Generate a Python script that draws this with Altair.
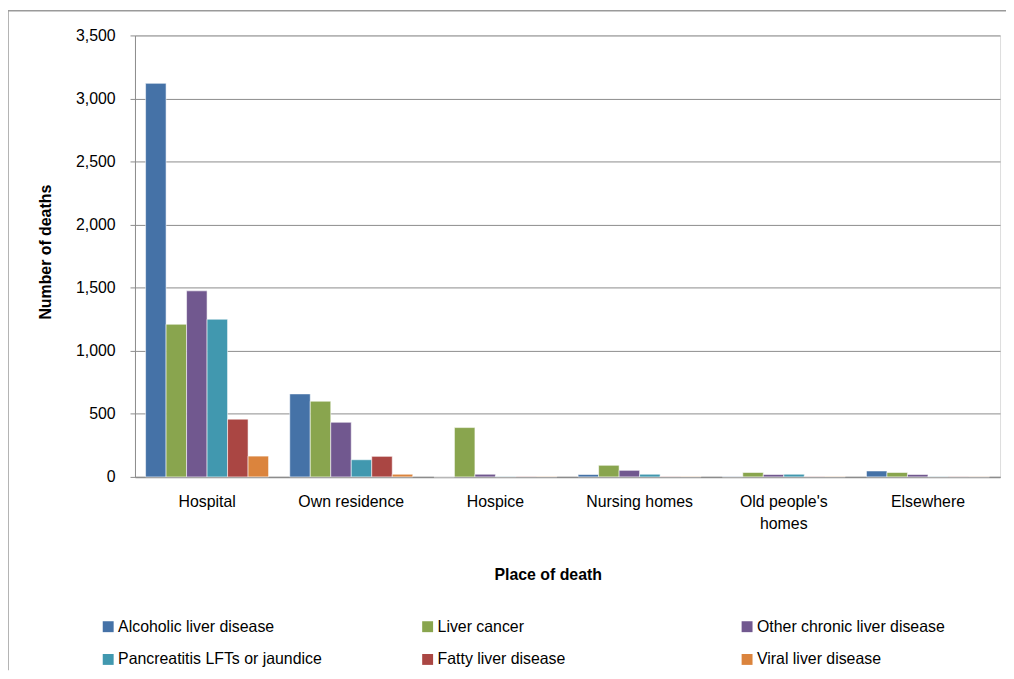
import altair as alt
import pandas as pd

places = ["Hospital", "Own residence", "Hospice", "Nursing homes",
          "Old people's homes", "Elsewhere"]
series = ["Alcoholic liver disease", "Liver cancer", "Other chronic liver disease",
          "Pancreatitis LFTs or jaundice", "Fatty liver disease", "Viral liver disease"]
colors = ["#4572A7", "#89A54E", "#71588F", "#4198AF", "#AA4643", "#DB843D"]

alcoholic = [3120, 658, 0, 19, 2, 47]
liver_cancer = [1210, 600, 391, 92, 35, 35]
other_chronic = [1475, 433, 21, 52, 19, 19]
pancreatitis = [1250, 136, 2, 21, 21, 2]
fatty = [458, 163, 3, 3, 3, 2]
viral = [165, 21, 3, 3, 3, 2]

values = [alcoholic, liver_cancer, other_chronic, pancreatitis, fatty, viral]
rows = []
for s, vals in zip(series, values):
    for p, v in zip(places, vals):
        rows.append({"place": p, "series": s, "deaths": v})
df = pd.DataFrame(rows)

FONT = "Liberation Sans"

bars = alt.Chart(df).mark_bar(stroke="white", strokeWidth=0.8, strokeOpacity=0.7).encode(
    x=alt.X("place:N", sort=places,
            scale=alt.Scale(paddingInner=0.147, paddingOuter=0.0735),
            axis=alt.Axis(title="Place of death", ticks=False, labelAngle=0,
                          labelFontSize=16, labelFont=FONT, labelColor="black",
                          labelPadding=17, labelLineHeight=22,
                          labelExpr='indexof(datum.value, "people") >= 0 ? ["Old people\'s", "homes"] : datum.value',
                          domainColor="#8c8c8c", domainWidth=1.5,
                          titleFontSize=16, titleFont=FONT, titleFontWeight="bold",
                          titleColor="black", titleX=416, titleY=90,
                          titleBaseline="top")),
    xOffset=alt.XOffset("series:N", sort=series,
                        scale=alt.Scale(domain=series, paddingInner=0, paddingOuter=0)),
    y=alt.Y("deaths:Q", scale=alt.Scale(domain=[0, 3500], nice=False),
            axis=alt.Axis(title="Number of deaths", values=list(range(0, 3501, 500)),
                          format=",.0f", labelFontSize=16, labelFont=FONT,
                          labelColor="black", labelPadding=15, tickSize=5,
                          tickColor="#8c8c8c", domainColor="#8c8c8c",
                          grid=True, gridColor="#8c8c8c", gridWidth=1,
                          titleFontSize=16, titleFont=FONT, titleFontWeight="bold",
                          titleColor="black", titleX=-82, titleY=218)),
    color=alt.Color("series:N", scale=alt.Scale(domain=series, range=colors),
                    legend=alt.Legend(title=None, orient="none", legendX=-35, legendY=588,
                                      direction="horizontal",
                                      columns=3, gridAlign="all", columnPadding=98,
                                      rowPadding=17, symbolType="square", symbolSize=121,
                                      symbolStrokeWidth=0, labelFontSize=16, labelFont=FONT,
                                      labelColor="black", labelOffset=2, labelLimit=400)),
)

frame_df = pd.DataFrame({"k": [0]})
left_line = alt.Chart(frame_df).mark_rule(color="#9a9a9a", strokeWidth=1.5).encode(
    x=alt.value(-128), y=alt.value(-25), y2=alt.value(640))
top_line = alt.Chart(frame_df).mark_rule(color="#9a9a9a", strokeWidth=1.5).encode(
    x=alt.value(-128), x2=alt.value(878), y=alt.value(-25))

chart = alt.layer(bars, left_line, top_line).properties(
    width=872, height=445,
    padding={"left": 128, "top": 25, "right": 6, "bottom": 193},
    autosize=alt.AutoSizeParams(type="none"),
).configure_view(strokeWidth=0).configure(background="white")

chart.save("out.html", embed_options={"renderer": "svg", "actions": False})
